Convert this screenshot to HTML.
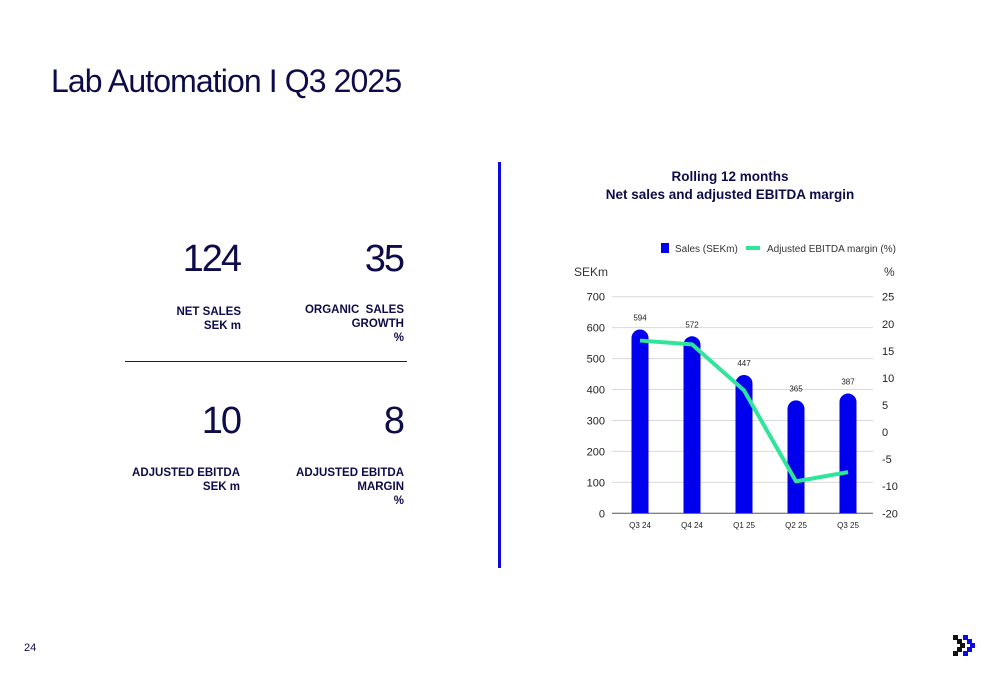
<!DOCTYPE html>
<html><head><meta charset="utf-8"><style>
body{margin:0;width:1000px;height:685px;background:#fff;position:relative;overflow:hidden;font-family:"Liberation Sans",sans-serif;color:#0d0b4a}
.a{position:absolute}
.big{font-size:38px;letter-spacing:-2px;text-align:right;width:120px}
.lbl{font-size:11.5px;font-weight:bold;text-align:right;width:160px;line-height:14px}
</style></head><body>
<div class="a" style="left:51px;top:63px;font-size:32px;letter-spacing:-0.9px">Lab Automation I Q3 2025</div>
<div class="a big" style="left:120px;top:238px">124</div>
<div class="a lbl" style="left:81px;top:305px">NET SALES<br>SEK m</div>
<div class="a big" style="left:283px;top:238px">35</div>
<div class="a lbl" style="left:244px;top:303px">ORGANIC&nbsp; SALES<br>GROWTH<br>%</div>
<div class="a" style="left:125px;top:361px;width:282px;height:1px;background:#1a1866"></div>
<div class="a big" style="left:120px;top:400px">10</div>
<div class="a lbl" style="left:80px;top:466px">ADJUSTED EBITDA<br>SEK m</div>
<div class="a big" style="left:283px;top:400px">8</div>
<div class="a lbl" style="left:244px;top:466px">ADJUSTED EBITDA<br>MARGIN<br>%</div>
<div class="a" style="left:498px;top:162px;width:3px;height:406px;background:#0a0ae0"></div>
<div class="a" style="left:560px;top:168px;width:340px;text-align:center;font-size:13.5px;font-weight:bold;line-height:18px">Rolling 12 months<br>Net sales and adjusted EBITDA margin</div>
<div class="a" style="left:24px;top:642px;font-size:11px">24</div>
<svg class="a" style="left:950px;top:632px" width="30" height="30">
<g fill="#111"><rect x="3" y="3" width="5" height="5"/><rect x="7" y="7" width="5" height="5"/><rect x="10" y="11" width="5" height="5"/><rect x="7" y="15" width="5" height="5"/><rect x="3" y="19" width="5" height="5"/></g>
<g fill="#0a0ae6"><rect x="13" y="3" width="5" height="5"/><rect x="17" y="7" width="5" height="5"/><rect x="20" y="11" width="5" height="5"/><rect x="17" y="15" width="5" height="5"/><rect x="13" y="19" width="5" height="5"/></g>
</svg>
<svg id="chart" class="a" style="left:0;top:0" width="1000" height="685"></svg>
<script>
const categories=["Q3 24","Q4 24","Q1 25","Q2 25","Q3 25"];
const sales=[594,572,447,365,387];
const margin=[16.9,16.2,7.7,-9.1,-7.4];
const leftTicks=[0,100,200,300,400,500,600,700];
const rightTicks=[-20,-10,-5,0,5,10,15,20,25];
const svg=document.getElementById('chart');
const NS="http://www.w3.org/2000/svg";
const yL=v=>513.3-v*(216.6/700);
const step=216.6/8;
const yR=v=>v>=-10?296.7+(25-v)/5*step:296.7+7*step+(-10-v)/10*step;
const xC=i=>640+i*52;
function mk(t,a,txt){const e=document.createElementNS(NS,t);for(const k in a)e.setAttribute(k,a[k]);if(txt!==undefined)e.textContent=txt;svg.appendChild(e);return e;}
leftTicks.forEach(v=>{
 const g=mk('line',{x1:612,x2:873,y1:yL(v),y2:yL(v),stroke:v===0?'#555':'#d9d9d9','stroke-width':1});
 
 
 const t=mk('text',{x:605,y:yL(v)+4,'text-anchor':'end','font-size':11,fill:'#222','font-family':'Liberation Sans'},v);
 
 
});
rightTicks.forEach(v=>{
 const t=mk('text',{x:882,y:yR(v)+4,'font-size':11,fill:'#222','font-family':'Liberation Sans'},v);
 
 
});
let a=mk('text',{x:574,y:276,'font-size':12,fill:'#333','font-family':'Liberation Sans'},'SEKm');


a=mk('text',{x:884,y:276,'font-size':12,fill:'#333','font-family':'Liberation Sans'},'%');


categories.forEach((c,i)=>{
 const x=xC(i),y=yL(sales[i]),w=17;
 const b=mk('path',{d:`M${x-w/2},${yL(0)} L${x-w/2},${y+w/2} A${w/2},${w/2} 0 0 1 ${x+w/2},${y+w/2} L${x+w/2},${yL(0)} Z`,fill:'#0000ee'});
 
 
 const l=mk('text',{x:x,y:y-9,'text-anchor':'middle','font-size':8,fill:'#222','font-family':'Liberation Sans'},sales[i]);
 
 
 const t=mk('text',{x:x,y:528,'text-anchor':'middle','font-size':8,fill:'#222','font-family':'Liberation Sans'},c);
 
 
});
const line=mk('polyline',{points:margin.map((m,i)=>xC(i)+','+yR(m)).join(' '),fill:'none',stroke:'#2ee59a','stroke-width':4,'stroke-linejoin':'round'});


a=mk('rect',{x:661,y:243,width:8,height:10,fill:'#0000ee'});


a=mk('text',{x:675,y:252,'font-size':10,fill:'#333','font-family':'Liberation Sans'},'Sales (SEKm)');


a=mk('line',{x1:746,x2:760,y1:248,y2:248,stroke:'#2ee59a','stroke-width':4});


a=mk('text',{x:767,y:252,'font-size':10,fill:'#333','font-family':'Liberation Sans'},'Adjusted EBITDA margin (%)');


</script>
</body></html>
